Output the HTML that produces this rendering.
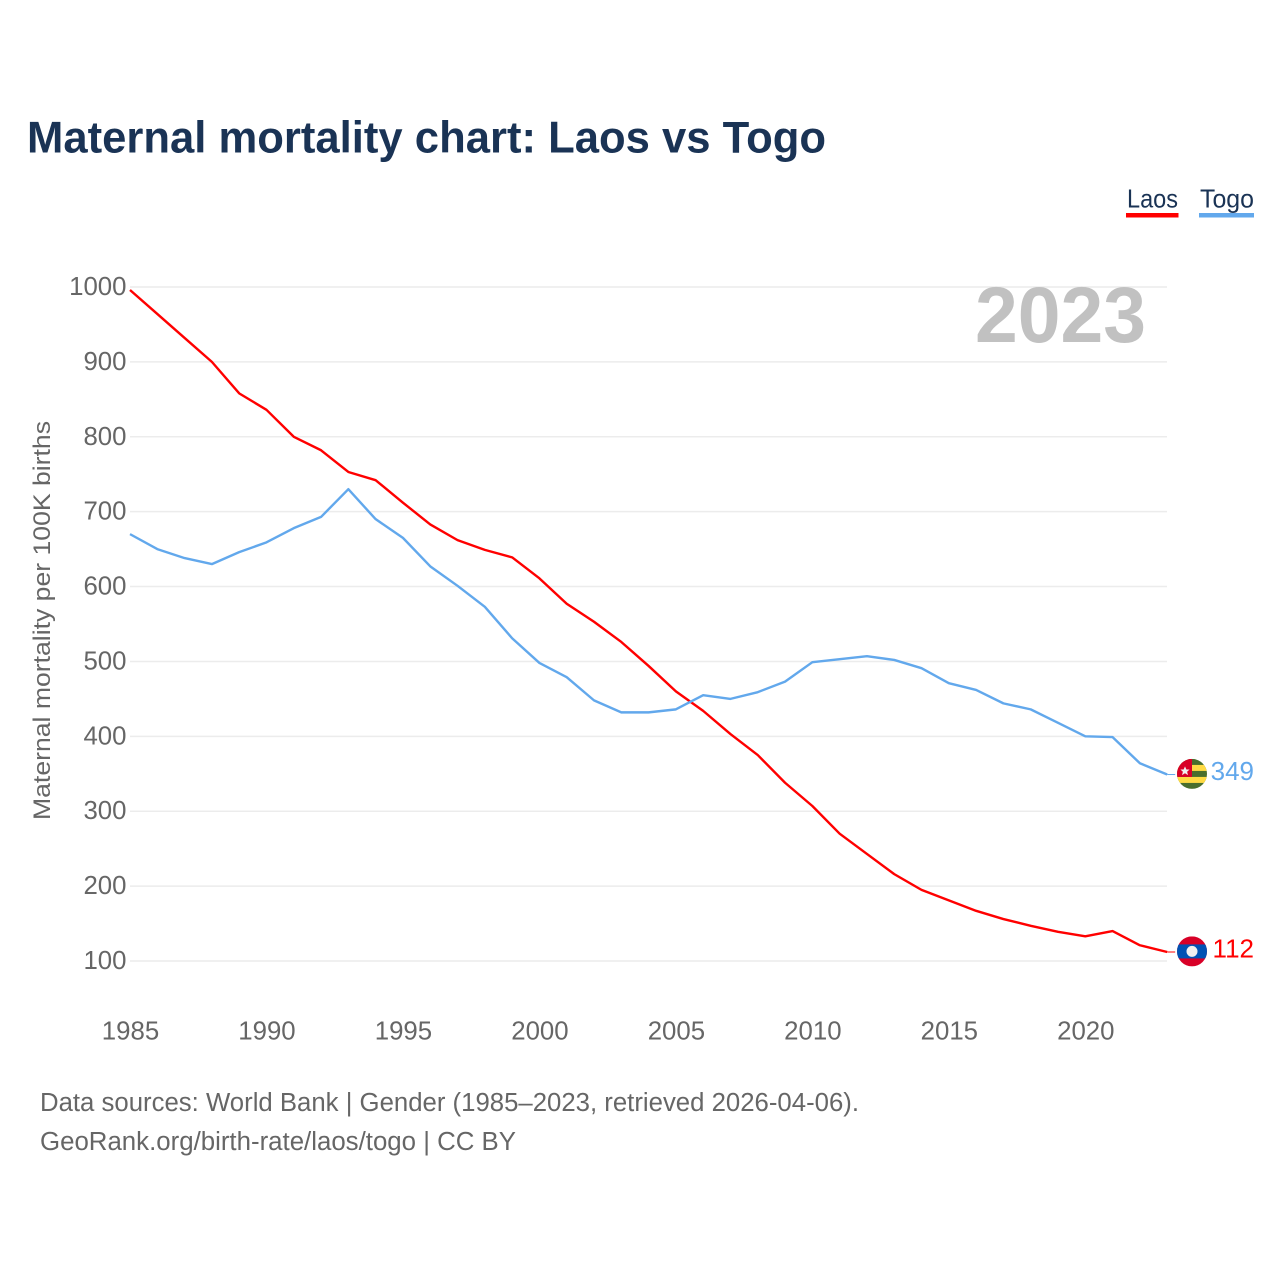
<!DOCTYPE html>
<html>
<head>
<meta charset="utf-8">
<style>
html,body{margin:0;padding:0;background:#fff;width:1280px;height:1280px;overflow:hidden}
svg{display:block;font-family:"Liberation Sans",sans-serif}
</style>
</head>
<body>
<svg id="chart" width="1280" height="1280" viewBox="0 0 1280 1280">
<defs>
<clipPath id="flag-clip-laos"><circle id="clip-circle-laos" r="15"></circle></clipPath>
<clipPath id="flag-clip-togo"><circle id="clip-circle-togo" r="15"></circle></clipPath>
</defs>
<text x="27" y="152.5" font-size="44.5" font-weight="700" fill="#1a3355" textLength="799" lengthAdjust="spacingAndGlyphs">Maternal mortality chart: Laos vs Togo</text>
<g>
<text x="1127" y="207.5" font-size="26" fill="#1a3355" textLength="51" lengthAdjust="spacingAndGlyphs">Laos</text>
<rect x="1126" y="213" width="52.5" height="4.5" fill="#ff0000"></rect>
<text x="1200" y="207.5" font-size="26" fill="#1a3355" textLength="54" lengthAdjust="spacingAndGlyphs">Togo</text>
<rect x="1199" y="213" width="55" height="4.5" fill="#62a8ec"></rect>
</g>
<g id="grid"></g>
<g id="y-ticks"></g>
<g id="x-ticks"></g>
<text x="975" y="342" font-size="79" font-weight="700" fill="#c1c1c1" textLength="171" lengthAdjust="spacingAndGlyphs">2023</text>
<text transform="translate(50,820) rotate(-90)" font-size="24" fill="#666666" textLength="399" lengthAdjust="spacingAndGlyphs">Maternal mortality per 100K births</text>
<path id="line-laos" fill="none" stroke="#ff0000" stroke-width="2.4" stroke-linejoin="round"></path>
<path id="line-togo" fill="none" stroke="#62a8ec" stroke-width="2.4" stroke-linejoin="round"></path>
<line id="lead-laos" stroke="#ff0000" stroke-width="1"></line>
<line id="lead-togo" stroke="#62a8ec" stroke-width="1"></line>
<g id="flag-togo">
<g clip-path="url(#flag-clip-togo)">
<rect x="-15" y="-15" width="30" height="30" fill="#496e2d"></rect>
<rect x="-15" y="-9" width="30" height="6" fill="#ffda44"></rect>
<rect x="-15" y="3" width="30" height="6" fill="#ffda44"></rect>
<rect x="-15" y="-15" width="15" height="18" fill="#d80027"></rect>
<polygon points="-7,-7.5 -5.6,-4.4 -2.4,-4.4 -4.9,-2.2 -4,1.2 -7,-0.7 -10,1.2 -9.1,-2.2 -11.6,-4.4 -8.4,-4.4" fill="#f0f0f0"></polygon>
</g>
</g>
<g id="flag-laos">
<g clip-path="url(#flag-clip-laos)">
<rect x="-15" y="-15" width="30" height="30" fill="#d80027"></rect>
<rect x="-15" y="-7" width="30" height="14" fill="#0052b4"></rect>
<circle cx="0" cy="0" r="5.5" fill="#f0f0f0"></circle>
</g>
</g>
<text id="value-togo" x="1254" font-size="26" fill="#62a8ec" text-anchor="end"></text>
<text id="value-laos" x="1254" font-size="26" fill="#ff0000" text-anchor="end"></text>
<g>
<text x="40" y="1111" font-size="25.5" fill="#666666" textLength="819" lengthAdjust="spacingAndGlyphs">Data sources: World Bank | Gender (1985–2023, retrieved 2026-04-06).</text>
<text x="40" y="1150" font-size="25.5" fill="#666666" textLength="476" lengthAdjust="spacingAndGlyphs">GeoRank.org/birth-rate/laos/togo | CC BY</text>
</g>
</svg>
<script>
var years = [1985,1986,1987,1988,1989,1990,1991,1992,1993,1994,1995,1996,1997,1998,1999,2000,2001,2002,2003,2004,2005,2006,2007,2008,2009,2010,2011,2012,2013,2014,2015,2016,2017,2018,2019,2020,2021,2022,2023];
var laosValues = [996,964,932,900,858,836,800,782,753,742,712,683,662,649,639,611,577,553,526,494,460,434,403,375,338,307,270,243,216,195,181,167,156,147,139,133,140,121,112];
var togoValues = [670,650,638,630,646,659,678,693,730,690,665,627,601,573,531,498,479,448,432,432,436,455,450,459,473,499,503,507,502,491,471,462,444,436,418,400,399,364,349];
var yTickValues = [100,200,300,400,500,600,700,800,900,1000];
var xTickValues = [1985,1990,1995,2000,2005,2010,2015,2020];

var NS = 'http://www.w3.org/2000/svg';
function xScale(v){ return 130 + (v - 1985) * (1085.3 - 130) / 35; }
function yScale(v){ return 961 - (v - 100) * (961 - 287) / 900; }
function linePath(vals){
  var d = '';
  for (var i = 0; i < vals.length; i++) {
    d += (i ? 'L' : 'M') + xScale(years[i]).toFixed(2) + ' ' + yScale(vals[i]).toFixed(2);
  }
  return d;
}
var gridG = document.getElementById('grid');
var yG = document.getElementById('y-ticks');
var xG = document.getElementById('x-ticks');
yTickValues.forEach(function(t){
  var l = document.createElementNS(NS, 'line');
  l.setAttribute('x1', 130);
  l.setAttribute('x2', 1167);
  l.setAttribute('y1', yScale(t));
  l.setAttribute('y2', yScale(t));
  l.setAttribute('stroke', '#ececec');
  l.setAttribute('stroke-width', '1.5');
  
  
  gridG.appendChild(l);
  var s = document.createElementNS(NS, 'text');
  s.setAttribute('x', 126.5);
  s.setAttribute('y', yScale(t) + 8);
  s.setAttribute('text-anchor', 'end');
  s.setAttribute('font-size', '25.8');
  s.setAttribute('fill', '#666666');
  s.textContent = t;
  
  
  yG.appendChild(s);
});
xTickValues.forEach(function(t){
  var s = document.createElementNS(NS, 'text');
  s.setAttribute('x', xScale(t) + 0.5);
  s.setAttribute('y', 1039.5);
  s.setAttribute('text-anchor', 'middle');
  s.setAttribute('font-size', '25.8');
  s.setAttribute('fill', '#666666');
  s.textContent = t;
  
  
  xG.appendChild(s);
});
function drawSeries(key, vals){
  document.getElementById('line-' + key).setAttribute('d', linePath(vals));
  var last = vals[vals.length - 1];
  var lx = xScale(years[years.length - 1]);
  var ly = yScale(last);
  var lead = document.getElementById('lead-' + key);
  lead.setAttribute('x1', lx);
  lead.setAttribute('x2', lx + 8);
  lead.setAttribute('y1', ly);
  lead.setAttribute('y2', ly);
  document.getElementById('flag-' + key).setAttribute('transform', 'translate(1192,' + (ly - 0.6) + ')');
  var clip = document.getElementById('clip-circle-' + key);
  clip.setAttribute('cx', 0);
  clip.setAttribute('cy', 0);
  var lab = document.getElementById('value-' + key);
  lab.setAttribute('y', ly + 5.5);
  lab.textContent = last;
}
drawSeries('laos', laosValues);
drawSeries('togo', togoValues);
</script>
</body>
</html>
